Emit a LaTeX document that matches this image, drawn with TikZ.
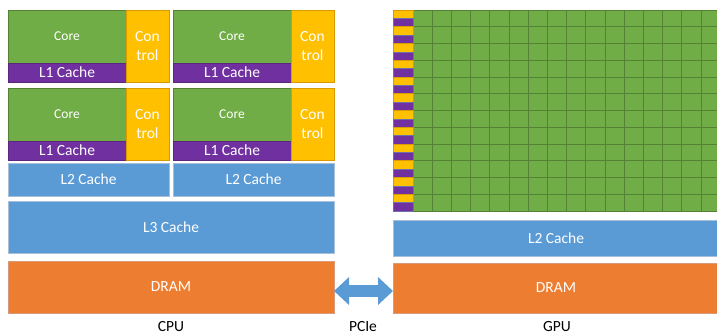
\documentclass[tikz,border=0pt]{standalone}
\usepackage{fontspec}
\setmainfont{Carlito}
\usetikzlibrary{arrows.meta}
\definecolor{cgreen}{HTML}{70AD47}
\definecolor{cgreenb}{HTML}{548235}
\definecolor{cpurple}{HTML}{7030A0}
\definecolor{cpurpleb}{HTML}{6C6FA8}
\definecolor{cyellow}{HTML}{FFC000}
\definecolor{cyellowb}{HTML}{D99A00}
\definecolor{cblue}{HTML}{5B9BD5}
\definecolor{cblueb}{HTML}{A7BFD8}
\definecolor{corange}{HTML}{ED7D31}
\definecolor{corangeb}{HTML}{D99A7A}
\tikzset{
  blk/.style={rectangle,anchor=north west,inner sep=0pt,outer sep=0pt,
    line width=0.7pt,text=white,font=\fontsize{15.5}{19}\selectfont},
  corebox/.style={blk,fill=cgreen,draw=cgreenb,font=\fontsize{13.5}{16}\selectfont},
  lonebox/.style={blk,fill=cpurple,draw=cpurple!80!black},
  ctrlbox/.style={blk,fill=cyellow,draw=cyellowb,align=center},
  cachebox/.style={blk,fill=cblue,draw=cblueb},
  drambox/.style={blk,fill=corange,draw=corangeb},
  lbl/.style={inner sep=0pt,text=black,font=\fontsize{15.5}{19}\selectfont},
  pciearrow/.style={cblue,line width=12pt,
    {Triangle[length=15pt,width=27pt]}-{Triangle[length=15pt,width=27pt]}}
}
\newcommand\corecell[3]{%
  \node[corebox,minimum width=118pt,minimum height=53pt] (#1core) at (#2,#3) {Core};
  \node[lonebox,minimum width=118pt,minimum height=19pt] (#1lone) at (#2,#3+53) {L1 Cache};
  \node[ctrlbox,minimum width=43pt,minimum height=72pt] (#1ctrl) at (#2+118,#3) {Con\\trol};
}
\begin{document}
\begin{tikzpicture}[x=1pt,y=-1pt]
\useasboundingbox (0,0) rectangle (717,335);
\clip (0,0) rectangle (717,335);
% CPU
\corecell{a}{8}{10}
\corecell{b}{173}{10}
\corecell{c}{8}{88}
\corecell{d}{173}{88}
\node[cachebox,minimum width=161pt,minimum height=33pt] (ltwoa) at (8,163) {L2 Cache};
\node[cachebox,minimum width=161pt,minimum height=33pt] (ltwob) at (173,163) {L2 Cache};
\node[cachebox,minimum width=326pt,minimum height=52pt] (lthree) at (8,201) {L3 Cache};
\node[drambox,minimum width=326pt,minimum height=52pt] (cpudram) at (8,261) {DRAM};
\node[lbl] (cpulbl) at (171,327) {CPU};
% GPU grid
\fill[cgreen] (413,10) rectangle (730,211);
\foreach \i in {0,...,16} {
  \draw[cgreenb,line width=0.8pt] (413+19.2*\i,10) -- (413+19.2*\i,211);
}
\foreach \j in {0,...,12} {
  \draw[cgreenb,line width=0.8pt] (413,10+16.75*\j) -- (730,10+16.75*\j);
}
\foreach \j in {0,...,11} {
  \filldraw[fill=cyellow,draw=cyellowb,line width=0.6pt] (393.5,10+16.75*\j) rectangle (413,18.375+16.75*\j);
  \filldraw[fill=cpurple,draw=cpurpleb,line width=0.6pt] (393.5,18.375+16.75*\j) rectangle (413,26.75+16.75*\j);
}
\node[cachebox,minimum width=326pt,minimum height=36pt] (gpultwo) at (393,220) {L2 Cache};
\node[drambox,minimum width=326pt,minimum height=50pt] (gpudram) at (393,263) {DRAM};
\node[lbl] (gpulbl) at (557,327) {GPU};
% PCIe
\coordinate (pa) at (cpudram.east |- 0,291);
\coordinate (pb) at (gpudram.west |- 0,291);
\draw[pciearrow] (pa) -- (pb);
\node[lbl] (pcielbl) at (363,327) {PCIe};
\end{tikzpicture}
\end{document}
